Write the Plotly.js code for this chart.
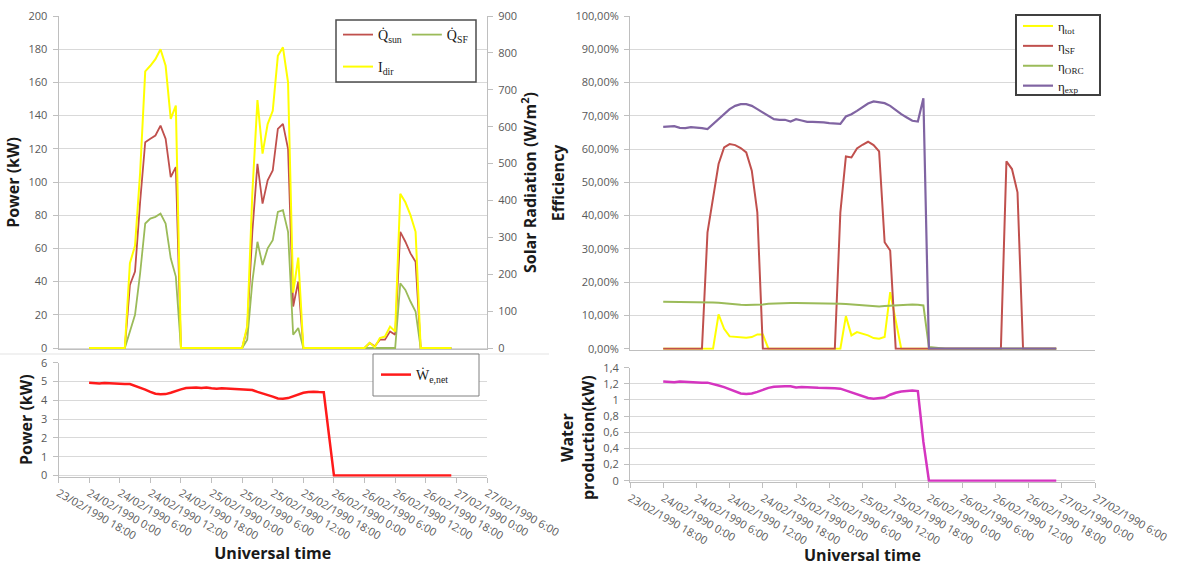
<!DOCTYPE html>
<html>
<head>
<meta charset="utf-8">
<script src="https://cdn.plot.ly/plotly-3.0.1.min.js"></script>
<style>html,body{margin:0;padding:0;background:#fff;}#chart{width:1178px;height:566px;}</style>
</head>
<body>
<div id="chart"></div>
<script>
// ---------- data (hourly, 24/02/1990 0:00 -> 26/02/1990 23:00) ----------
const startTime = '1990-02-24T00:00:00Z';
const nHours = 72;

const tickVals = ['1990-02-23 18:00','1990-02-24 00:00','1990-02-24 06:00','1990-02-24 12:00','1990-02-24 18:00',
  '1990-02-25 00:00','1990-02-25 06:00','1990-02-25 12:00','1990-02-25 18:00','1990-02-26 00:00',
  '1990-02-26 06:00','1990-02-26 12:00','1990-02-26 18:00','1990-02-27 00:00','1990-02-27 06:00'];
const tickText = ['23/02/1990 18:00','24/02/1990 0:00','24/02/1990 6:00','24/02/1990 12:00','24/02/1990 18:00',
  '25/02/1990 0:00','25/02/1990 6:00','25/02/1990 12:00','25/02/1990 18:00','26/02/1990 0:00',
  '26/02/1990 6:00','26/02/1990 12:00','26/02/1990 18:00','27/02/1990 0:00','27/02/1990 6:00'];

// Power (kW)
const qSun = [0,0,0,0,0,0,0,0,38,46,88,124,
  126,128,134,126,103,109,0,0,0,0,0,0,
  0,0,0,0,0,0,0,12,70,111,87,101,
  107,132,135,120,25,40,0,0,0,0,0,0,
  0,0,0,0,0,0,0,3,1,5,5,10,
  8,70,64,57,52,0,0,0,0,0,0,0];
const qSF = [0,0,0,0,0,0,0,0,10,20,45,75,
  78,79,81,75,54,43,0,0,0,0,0,0,
  0,0,0,0,0,0,0,5,40,64,50,60,
  65,82,83,70,8,12,0,0,0,0,0,0,
  0,0,0,0,0,0,0,0,0,0,0,0,
  0,39,35,28,22,0,0,0,0,0,0,0];
// Solar radiation (W/m2)
const iDir = [0,0,0,0,0,0,0,0,230,277,475,750,
  765,783,810,765,621,657,0,0,0,0,0,0,
  0,0,0,0,0,0,0,60,420,672,527,607,
  643,792,815,720,150,245,0,0,0,0,0,0,
  0,0,0,0,0,0,0,14,2,27,31,58,
  45,418,395,360,315,0,0,0,0,0,0,0];
// Net electric power (kW)
const wNet = [4.93,4.90,4.90,4.92,4.90,4.88,4.87,4.87,4.87,4.78,4.68,4.57,
  4.45,4.35,4.32,4.33,4.40,4.50,4.58,4.65,4.68,4.68,4.66,4.68,
  4.64,4.62,4.64,4.62,4.60,4.60,4.58,4.57,4.55,4.45,4.38,4.30,
  4.20,4.10,4.08,4.12,4.22,4.32,4.40,4.44,4.46,4.44,4.43,2.2,
  0,0,0,0,0,0,0,0,0,0,0,0,
  0,0,0,0,0,0,0,0,0,0,0,0];
// Efficiencies
const etaTot = [0,0,0,0,0,0,0,0,0,0,0.103,0.06,
  0.037,0.035,0.034,0.033,0.035,0.043,0.043,0,0,0,0,0,
  0,0,0,0,0,0,0,0,0,0.098,0.04,0.05,
  0.045,0.04,0.032,0.03,0.035,0.17,0.085,0,0,0,0,0,
  0,0,0,0,0,0,0,0,0,0,0,0,
  0,0,0,0,0,0,0,0,0,0,0,0];
const etaSF = [0,0,0,0,0,0,0,0,0.35,0.46,0.555,0.605,
  0.615,0.612,0.603,0.59,0.535,0.41,0,0,0,0,0,0,
  0,0,0,0,0,0,0,0,0.41,0.578,0.575,0.602,
  0.613,0.622,0.612,0.593,0.32,0.295,0,0,0,0,0,0,
  0,0,0,0,0,0,0,0,0,0,0,0,
  0,0,0.563,0.54,0.47,0,0,0,0,0,0,0];
const etaORC = [0.141,0.141,0.141,0.141,0.141,0.141,0.1405,0.140,0.140,0.139,0.138,0.136,
  0.135,0.133,0.132,0.131,0.131,0.132,0.133,0.135,0.136,0.137,0.137,0.137,
  0.137,0.137,0.137,0.136,0.136,0.136,0.136,0.135,0.135,0.134,0.133,0.132,
  0.130,0.129,0.127,0.127,0.128,0.129,0.131,0.132,0.133,0.133,0.132,0.130,
  0.005,0.003,0,0,0,0,0,0,0,0,0,0,
  0,0,0,0,0,0,0,0,0,0,0,0];
const etaExp = [0.667,0.668,0.669,0.664,0.663,0.666,0.665,0.663,0.660,0.675,0.690,0.705,
  0.720,0.730,0.735,0.735,0.730,0.720,0.710,0.700,0.690,0.688,0.688,0.683,
  0.690,0.686,0.682,0.682,0.682,0.680,0.678,0.676,0.676,0.698,0.705,0.715,
  0.727,0.737,0.743,0.741,0.738,0.730,0.717,0.705,0.695,0.685,0.683,0.753,
  0,0,0,0,0,0,0,0,0,0,0,0,
  0,0,0,0,0,0,0,0,0,0,0,0];
// Water production (kW)
const water = [1.23,1.225,1.22,1.23,1.225,1.22,1.215,1.215,1.215,1.20,1.18,1.16,
  1.13,1.10,1.08,1.075,1.08,1.10,1.125,1.15,1.165,1.17,1.17,1.17,
  1.155,1.16,1.16,1.155,1.15,1.15,1.148,1.145,1.14,1.115,1.095,1.075,
  1.05,1.025,1.015,1.02,1.03,1.065,1.09,1.105,1.115,1.118,1.11,0.48,
  0,0,0,0,0,0,0,0,0,0,0,0,
  0,0,0,0,0,0,0,0,0,0,0,0];

// ---------- build ----------
function hourlyTimes(start, n) {
  const t0 = Date.parse(start), out = [];
  for (let i = 0; i < n; i++) {
    const d = new Date(t0 + i * 3600000);
    const p = v => String(v).padStart(2, '0');
    out.push(d.getUTCFullYear() + '-' + p(d.getUTCMonth() + 1) + '-' + p(d.getUTCDate()) + ' ' + p(d.getUTCHours()) + ':00');
  }
  return out;
}
const times = hourlyTimes(startTime, nHours);

const W = 1178, H = 566;
const px = v => v / W, py = v => 1 - v / H;

const tickFont = {family: 'Open Sans, Liberation Sans, sans-serif', size: 11, color: '#595959'};
const titleFont = {family: 'Open Sans, Liberation Sans, sans-serif', size: 16, color: '#1a1a1a', weight: 700};
const legFont = {family: 'Liberation Serif, Times New Roman, serif', size: 14, color: '#1a1a1a'};
const gridC = '#d9d9d9', lineC = '#bfbfbf';

const xRange = ['1990-02-23 18:00', '1990-02-27 06:00'];
const leftDom = [px(58.5), px(487)];
const rightDom = [px(630), px(1095)];

function yAx(extra) {
  return Object.assign({
    showgrid: true, gridcolor: gridC, gridwidth: 1, zeroline: false,
    showline: true, linecolor: lineC, linewidth: 1,
    ticks: 'outside', ticklen: 5, tickcolor: lineC, tickfont: tickFont,
    ticklabelstandoff: 3, fixedrange: true
  }, extra);
}
function xAx(extra) {
  return Object.assign({
    type: 'date', range: xRange, showgrid: false, zeroline: false,
    showline: true, linecolor: lineC, linewidth: 1,
    tickvals: tickVals, ticktext: tickText, tickangle: 30, tickfont: tickFont,
    ticks: 'outside', ticklen: 5, tickcolor: lineC, fixedrange: true
  }, extra);
}

const traces = [
  {x: times, y: qSun, name: 'Q\u0307<sub>sun</sub>', type: 'scatter', mode: 'lines',
   line: {color: '#c0504d', width: 1.8}, xaxis: 'x', yaxis: 'y', legend: 'legend'},
  {x: times, y: qSF, name: 'Q\u0307<sub>SF</sub>', type: 'scatter', mode: 'lines',
   line: {color: '#9bbb59', width: 1.8}, xaxis: 'x', yaxis: 'y', legend: 'legend'},
  {x: times, y: iDir, name: 'I<sub>dir</sub>', type: 'scatter', mode: 'lines',
   line: {color: '#ffff00', width: 2}, xaxis: 'x', yaxis: 'y2', legend: 'legend2'},
  {x: times, y: wNet, name: 'W\u0307<sub>e,net</sub>', type: 'scatter', mode: 'lines',
   line: {color: '#ff1a1a', width: 2.5}, xaxis: 'x2', yaxis: 'y3', legend: 'legend4'},
  {x: times, y: etaTot, name: '\u03b7<sub>tot</sub>', type: 'scatter', mode: 'lines',
   line: {color: '#ffff00', width: 2}, xaxis: 'x3', yaxis: 'y4', legend: 'legend3'},
  {x: times, y: etaSF, name: '\u03b7<sub>SF</sub>', type: 'scatter', mode: 'lines',
   line: {color: '#c0504d', width: 2}, xaxis: 'x3', yaxis: 'y4', legend: 'legend3'},
  {x: times, y: etaORC, name: '\u03b7<sub>ORC</sub>', type: 'scatter', mode: 'lines',
   line: {color: '#9bbb59', width: 2}, xaxis: 'x3', yaxis: 'y4', legend: 'legend3'},
  {x: times, y: etaExp, name: '\u03b7<sub>exp</sub>', type: 'scatter', mode: 'lines',
   line: {color: '#8064a2', width: 2.2}, xaxis: 'x3', yaxis: 'y4', legend: 'legend3'},
  {x: times, y: water, name: 'Water production', type: 'scatter', mode: 'lines',
   line: {color: '#d535c0', width: 2.5}, xaxis: 'x4', yaxis: 'y5', showlegend: false}
];

const legBase = {font: legFont, bgcolor: 'rgba(0,0,0,0)', borderwidth: 0, xanchor: 'left'};

const layout = {
  width: W, height: H, margin: {l: 0, r: 0, t: 0, b: 0},
  paper_bgcolor: '#ffffff', plot_bgcolor: 'rgba(0,0,0,0)',
  separators: ', ', hovermode: false,
  font: {family: 'Open Sans, sans-serif', color: '#595959'},
  // top-left
  xaxis: xAx({domain: leftDom, anchor: 'y', showticklabels: false, ticks: ''}),
  yaxis: yAx({domain: [py(349), py(16)], anchor: 'x', range: [-0.6, 200], dtick: 20,
    title: {text: 'Power (kW)', font: titleFont, standoff: 4}}),
  yaxis2: yAx({overlaying: 'y', side: 'right', anchor: 'x', range: [-2.7, 900], dtick: 100, showgrid: false,
    title: {text: 'Solar Radiation (W/m<sup>2</sup>)', font: titleFont, standoff: 2}}),
  // bottom-left
  xaxis2: xAx({domain: leftDom, anchor: 'y3',
    title: {text: 'Universal time', font: titleFont, standoff: 6}}),
  yaxis3: yAx({domain: [py(476.7), py(362.7)], anchor: 'x2', range: [-0.06, 6], dtick: 1,
    title: {text: 'Power (kW)', font: titleFont, standoff: 4}}),
  // top-right
  xaxis3: xAx({domain: rightDom, anchor: 'y4', showticklabels: false, ticks: ''}),
  yaxis4: yAx({domain: [py(349.7), py(16)], anchor: 'x3', range: [-0.003, 1], dtick: 0.1, tickformat: '.2%',
    title: {text: 'Efficiency', font: titleFont, standoff: 6}}),
  // bottom-right
  xaxis4: xAx({domain: rightDom, anchor: 'y5',
    title: {text: 'Universal time', font: titleFont, standoff: 8}}),
  yaxis5: yAx({domain: [py(481.7), py(367.7)], anchor: 'x4', range: [-0.013, 1.4], dtick: 0.2}),
  annotations: [
    {text: 'Water<br>production(kW)', xref: 'paper', yref: 'paper', x: px(578), y: py(438),
     xanchor: 'center', yanchor: 'middle', textangle: -90, showarrow: false, font: titleFont}
  ],
  legend: Object.assign({}, legBase, {orientation: 'h', x: px(338), y: py(35), yanchor: 'middle'}),
  legend2: Object.assign({}, legBase, {orientation: 'h', x: px(338), y: py(67), yanchor: 'middle'}),
  legend3: Object.assign({}, legBase, {orientation: 'v', x: px(1018), y: py(11), yanchor: 'top',
    font: Object.assign({}, legFont, {size: 13})}),
  legend4: Object.assign({}, legBase, {orientation: 'h', x: px(376), y: py(375), yanchor: 'middle'}),
  shapes: [
    {type: 'line', xref: 'paper', yref: 'paper', x0: 0, x1: px(549), y0: py(354), y1: py(354),
     line: {color: '#e3e3e3', width: 1}, layer: 'below'},
    {type: 'rect', xref: 'paper', yref: 'paper', x0: px(336), x1: px(476), y0: py(82), y1: py(20),
     line: {color: '#4d4d4d', width: 1.5}, fillcolor: '#ffffff', layer: 'above'},
    {type: 'rect', xref: 'paper', yref: 'paper', x0: px(1016), x1: px(1100), y0: py(95), y1: py(15),
     line: {color: '#404040', width: 2}, fillcolor: '#ffffff', layer: 'above'},
    {type: 'rect', xref: 'paper', yref: 'paper', x0: px(373), x1: px(479), y0: py(396), y1: py(354),
     line: {color: '#808080', width: 1}, fillcolor: '#ffffff', layer: 'above'}
  ]
};

Plotly.newPlot('chart', traces, layout, {staticPlot: true, displayModeBar: false});
</script>
</body>
</html>
